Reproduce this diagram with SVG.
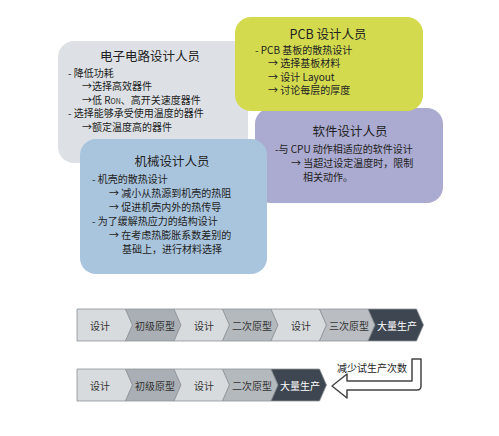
<svg xmlns="http://www.w3.org/2000/svg" width="499" height="436" viewBox="0 0 499 436">
<style>
text{font-family:"Noto Sans CJK SC","Noto Sans",sans-serif;fill:#222;dominant-baseline:central}
.t{font-size:12.5px;text-anchor:middle}
.b{font-size:10px}
.s{font-size:10px;text-anchor:middle;fill:#333}
.w{fill:#fff}
.seg{stroke:#8e9398;stroke-width:0.8}
.l{fill:#d8dbde}.m1{fill:#a9afb4}.m2{fill:#b4b9bd}.m3{fill:#babec2}.d{fill:#3e4651}
</style>
<rect width="499" height="436" fill="#fff"/>
<g id="elec">
<rect x="58" y="41" width="190" height="122" rx="16" fill="#dde1e5"/>
<text class="t" x="150" y="55">电子电路设计人员</text>
<text class="b" x="68" y="72">-  降低功耗</text>
<text class="b" x="82" y="85.5">→选择高效器件</text>
<text class="b" x="82" y="99">→低 R<tspan font-size="7" dy="2">ON</tspan><tspan dy="-2">、高开关速度器件</tspan></text>
<text class="b" x="68" y="112.5">-  选择能够承受使用温度的器件</text>
<text class="b" x="82" y="126">→额定温度高的器件</text>
</g>
<g id="soft">
<rect x="255" y="108" width="188" height="95" rx="16" fill="#abaad0"/>
<text class="t" x="350" y="130">软件设计人员</text>
<text class="b" x="275" y="148">-与 CPU 动作相适应的软件设计</text>
<text class="b" x="291" y="162">→  当超过设定温度时，限制</text>
<text class="b" x="303" y="176">相关动作。</text>
</g>
<g id="pcb">
<rect x="235" y="17" width="188" height="94" rx="16" fill="#d3da4e"/>
<text class="t" x="328" y="33">PCB 设计人员</text>
<text class="b" x="255" y="49">- PCB 基板的散热设计</text>
<text class="b" x="268" y="62.5">→  选择基板材料</text>
<text class="b" x="268" y="76">→  设计 Layout</text>
<text class="b" x="268" y="89.5">→  讨论每层的厚度</text>
</g>
<g id="mech">
<rect x="80" y="139" width="187" height="135" rx="16" fill="#a9c5dd"/>
<text class="t" x="172" y="160">机械设计人员</text>
<text class="b" x="92" y="178">-  机壳的散热设计</text>
<text class="b" x="109" y="192">→  减小从热源到机壳的热阻</text>
<text class="b" x="109" y="206">→  促进机壳内外的热传导</text>
<text class="b" x="92" y="220">-  为了缓解热应力的结构设计</text>
<text class="b" x="109" y="234">→  在考虑热膨胀系数差别的</text>
<text class="b" x="122" y="248">基础上，进行材料选择</text>
</g>
<g id="row1">
<path class="seg l" d="M77,309H125.5L132.5,325L125.5,341H77Z"/>
<path class="seg m1" d="M125.5,309H174L181,325L174,341H125.5L132.5,325Z"/>
<path class="seg l" d="M174,309H222.5L229.5,325L222.5,341H174L181,325Z"/>
<path class="seg m2" d="M222.5,309H271L278,325L271,341H222.5L229.5,325Z"/>
<path class="seg l" d="M271,309H319.5L326.5,325L319.5,341H271L278,325Z"/>
<path class="seg m3" d="M319.5,309H368L375,325L368,341H319.5L326.5,325Z"/>
<path class="seg d" d="M368,309H416.5L423.5,325L416.5,341H368L375,325Z"/>
<text class="s" x="100" y="325">设计</text>
<text class="s" x="155" y="325">初级原型</text>
<text class="s" x="204" y="325">设计</text>
<text class="s" x="252" y="325">二次原型</text>
<text class="s" x="301" y="325">设计</text>
<text class="s" x="349" y="325">三次原型</text>
<text class="s w" x="397" y="325">大量生产</text>
</g>
<g id="row2">
<path class="seg l" d="M77,369H125.5L132.5,385L125.5,401H77Z"/>
<path class="seg m1" d="M125.5,369H174L181,385L174,401H125.5L132.5,385Z"/>
<path class="seg l" d="M174,369H222.5L229.5,385L222.5,401H174L181,385Z"/>
<path class="seg m2" d="M222.5,369H271L278,385L271,401H222.5L229.5,385Z"/>
<path class="seg d" d="M271,369H319.5L326.5,385L319.5,401H271L278,385Z"/>
<text class="s" x="100" y="385">设计</text>
<text class="s" x="155" y="385">初级原型</text>
<text class="s" x="204" y="385">设计</text>
<text class="s" x="252" y="385">二次原型</text>
<text class="s w" x="300" y="385">大量生产</text>
</g>
<g id="connectors">
<path d="M412,359H421V386Q421,390 417,390H347V398L332,386L347,374V381H412Z" fill="#fff" stroke="#444" stroke-width="1.5" stroke-linejoin="round"/>
<text class="b" x="372" y="367" text-anchor="middle" fill="#333" font-size="10.5">减少试生产次数</text>
</g>
</svg>
